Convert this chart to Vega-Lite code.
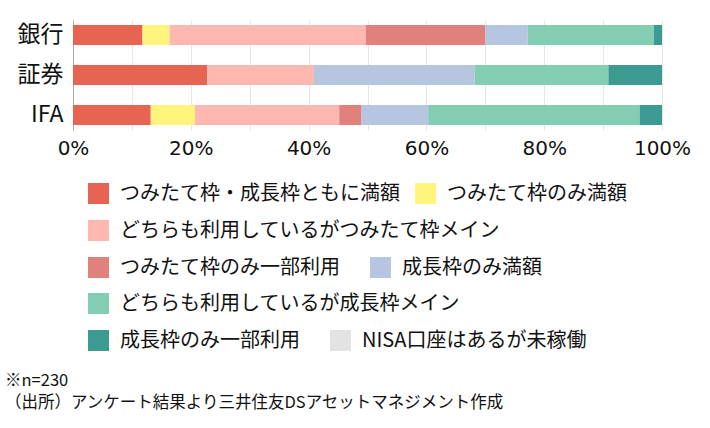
{
  "$schema": "https://vega.github.io/schema/vega-lite/v6.json",
  "width": 589,
  "height": 110,
  "autosize": {"type": "none"},
  "padding": {"left": 73, "top": 20, "right": 48, "bottom": 298},
  "background": "white",
  "config": {
    "view": {"stroke": null},
    "font": "Noto Sans CJK JP",
    "legend": {
      "title": null,
      "orient": "none",
      "direction": "horizontal",
      "columnPadding": 30,
      "symbolType": "square",
      "symbolSize": 441,
      "symbolStrokeWidth": 0,
      "symbolOpacity": 1,
      "labelFontSize": 20,
      "labelFont": "Noto Sans CJK JP",
      "labelColor": "#111111",
      "labelOffset": 11,
      "labelLimit": 500
    }
  },
  "title": {
    "text": ["※n=230", "（出所）アンケート結果より三井住友DSアセットマネジメント作成"],
    "orient": "bottom",
    "anchor": "start",
    "frame": "group",
    "fontSize": 16.5,
    "fontWeight": "normal",
    "lineHeight": 22,
    "color": "#111111",
    "font": "Noto Sans CJK JP",
    "dx": -68,
    "offset": 22
  },
  "data": {
    "values": [
      {"group": "銀行", "cat": "つみたて枠・成長枠ともに満額", "idx": 1, "v": 11.8},
      {"group": "銀行", "cat": "つみたて枠のみ満額", "idx": 2, "v": 4.6},
      {"group": "銀行", "cat": "どちらも利用しているがつみたて枠メイン", "idx": 3, "v": 33.3},
      {"group": "銀行", "cat": "つみたて枠のみ一部利用", "idx": 4, "v": 20.3},
      {"group": "銀行", "cat": "成長枠のみ満額", "idx": 5, "v": 7.2},
      {"group": "銀行", "cat": "どちらも利用しているが成長枠メイン", "idx": 6, "v": 21.4},
      {"group": "銀行", "cat": "成長枠のみ一部利用", "idx": 7, "v": 1.4},
      {"group": "証券", "cat": "つみたて枠・成長枠ともに満額", "idx": 1, "v": 22.8},
      {"group": "証券", "cat": "どちらも利用しているがつみたて枠メイン", "idx": 3, "v": 18.1},
      {"group": "証券", "cat": "成長枠のみ満額", "idx": 5, "v": 27.3},
      {"group": "証券", "cat": "どちらも利用しているが成長枠メイン", "idx": 6, "v": 22.7},
      {"group": "証券", "cat": "成長枠のみ一部利用", "idx": 7, "v": 9.1},
      {"group": "IFA", "cat": "つみたて枠・成長枠ともに満額", "idx": 1, "v": 13.2},
      {"group": "IFA", "cat": "つみたて枠のみ満額", "idx": 2, "v": 7.5},
      {"group": "IFA", "cat": "どちらも利用しているがつみたて枠メイン", "idx": 3, "v": 24.5},
      {"group": "IFA", "cat": "つみたて枠のみ一部利用", "idx": 4, "v": 3.8},
      {"group": "IFA", "cat": "成長枠のみ満額", "idx": 5, "v": 11.3},
      {"group": "IFA", "cat": "どちらも利用しているが成長枠メイン", "idx": 6, "v": 35.9},
      {"group": "IFA", "cat": "成長枠のみ一部利用", "idx": 7, "v": 3.8}
    ]
  },
  "transform": [
    {"stack": "v", "groupby": ["group"], "sort": [{"field": "idx", "order": "ascending"}], "offset": "normalize", "as": ["x0", "x1"]}
  ],
  "encoding": {
    "y": {
      "field": "group",
      "type": "nominal",
      "sort": ["銀行", "証券", "IFA"],
      "scale": {"paddingInner": 0.5, "paddingOuter": 0.125},
      "axis": {
        "title": null,
        "ticks": false,
        "domain": true,
        "domainColor": "#aaaaaa",
        "domainWidth": 1,
        "labelFontSize": 23,
        "labelColor": "#111111",
        "labelPadding": 10,
        "labelFont": "Noto Sans CJK JP"
      }
    },
    "x": {
      "field": "x0",
      "type": "quantitative",
      "scale": {"domain": [0, 1], "nice": false},
      "axis": {
        "title": null,
        "values": [0, 0.1, 0.2, 0.3, 0.4, 0.5, 0.6, 0.7, 0.8, 0.9, 1],
        "format": ".0%",
        "labelExpr": "round(datum.value * 10) % 2 == 0 ? datum.label : ''",
        "labelFlush": false,
        "ticks": false,
        "domain": false,
        "grid": true,
        "gridColor": "#e6e6e6",
        "gridWidth": 1,
        "labelFontSize": 20,
        "labelColor": "#111111",
        "labelFont": "DejaVu Sans",
        "labelPadding": 8
      }
    },
    "x2": {"field": "x1"}
  },
  "layer": [
    {
      "transform": [{"filter": {"field": "cat", "oneOf": ["つみたて枠・成長枠ともに満額", "つみたて枠のみ満額"]}}],
      "mark": {"type": "bar"},
      "encoding": {
        "color": {
          "field": "cat",
          "type": "nominal",
          "scale": {"domain": ["つみたて枠・成長枠ともに満額", "つみたて枠のみ満額"], "range": ["#E86452", "#FFF57D"]},
          "legend": {"legendX": 15, "legendY": 163, "columnPadding": 15}
        }
      }
    },
    {
      "transform": [{"filter": {"field": "cat", "oneOf": ["どちらも利用しているがつみたて枠メイン"]}}],
      "mark": {"type": "bar"},
      "encoding": {
        "color": {
          "field": "cat",
          "type": "nominal",
          "scale": {"domain": ["どちらも利用しているがつみたて枠メイン"], "range": ["#FEB8B0"]},
          "legend": {"legendX": 15, "legendY": 200}
        }
      }
    },
    {
      "transform": [{"filter": {"field": "cat", "oneOf": ["つみたて枠のみ一部利用", "成長枠のみ満額"]}}],
      "mark": {"type": "bar"},
      "encoding": {
        "color": {
          "field": "cat",
          "type": "nominal",
          "scale": {"domain": ["つみたて枠のみ一部利用", "成長枠のみ満額"], "range": ["#E0827B", "#B6C6E1"]},
          "legend": {"legendX": 15, "legendY": 237}
        }
      }
    },
    {
      "transform": [{"filter": {"field": "cat", "oneOf": ["どちらも利用しているが成長枠メイン"]}}],
      "mark": {"type": "bar"},
      "encoding": {
        "color": {
          "field": "cat",
          "type": "nominal",
          "scale": {"domain": ["どちらも利用しているが成長枠メイン"], "range": ["#83CDB2"]},
          "legend": {"legendX": 15, "legendY": 273}
        }
      }
    },
    {
      "transform": [{"filter": {"field": "cat", "oneOf": ["成長枠のみ一部利用", "NISA口座はあるが未稼働"]}}],
      "mark": {"type": "bar"},
      "encoding": {
        "color": {
          "field": "cat",
          "type": "nominal",
          "scale": {"domain": ["成長枠のみ一部利用", "NISA口座はあるが未稼働"], "range": ["#3B9A91", "#E3E3E3"]},
          "legend": {"legendX": 15, "legendY": 310}
        }
      }
    }
  ],
  "resolve": {"scale": {"color": "independent"}, "legend": {"color": "independent"}}
}
